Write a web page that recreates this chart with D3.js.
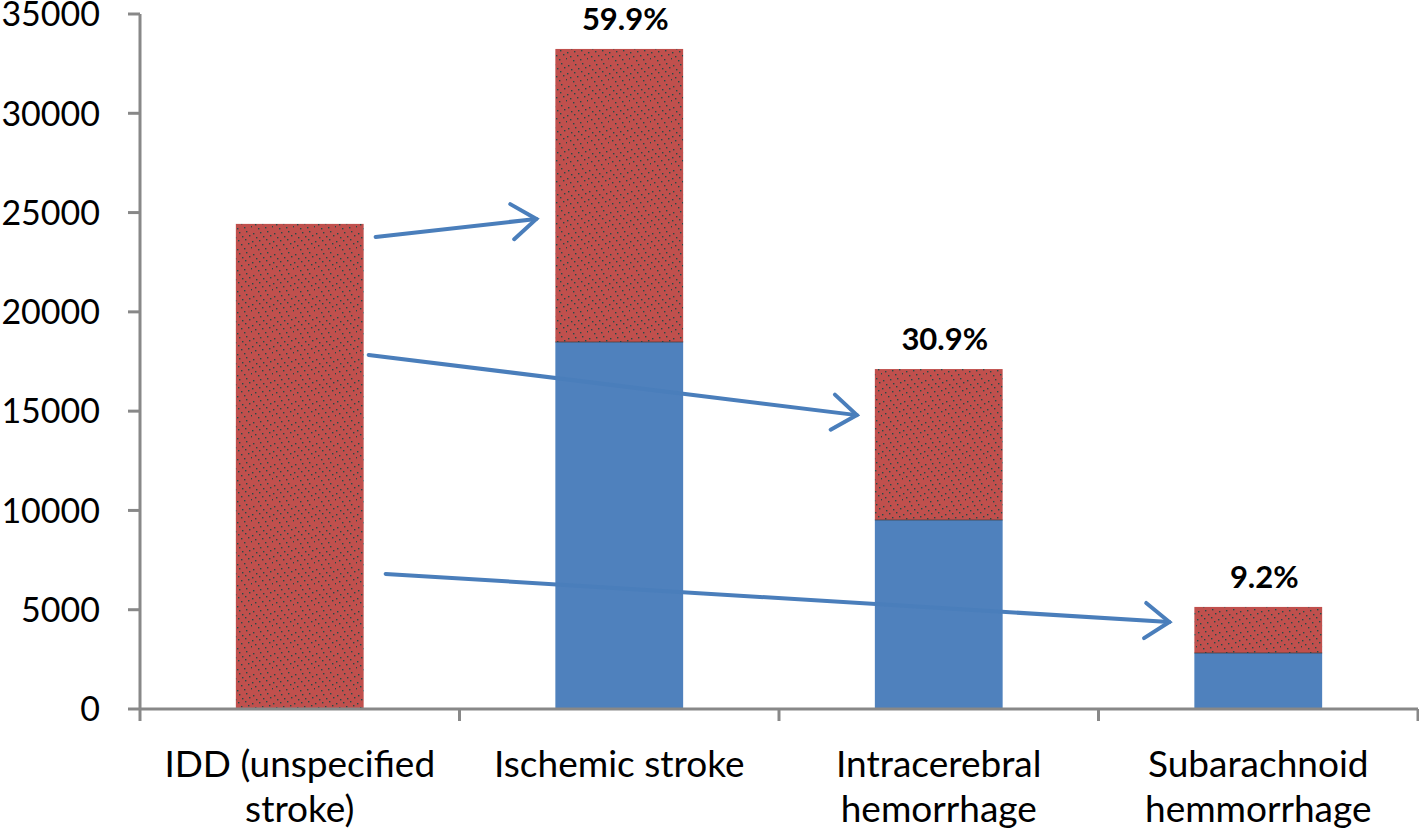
<!DOCTYPE html>
<html>
<head>
<meta charset="utf-8">
<script src="https://cdn.jsdelivr.net/npm/d3@7"></script>
<style>
  html, body { margin: 0; padding: 0; background: #fff; }
  svg { display: block; }
  text { font-family: Lato, "Open Sans", sans-serif; fill: #000; }
</style>
</head>
<body>
<svg id="chart" width="1419" height="833"></svg>
<script>
// ---- data ----
const categories = ["IDD (unspecified stroke)", "Ischemic stroke", "Intracerebral hemorrhage", "Subarachnoid hemmorrhage"];
const categoryLines = [["IDD (unspecified", "stroke)"], ["Ischemic stroke"], ["Intracerebral", "hemorrhage"], ["Subarachnoid", "hemmorrhage"]];
const blueValues = [0, 18480, 9520, 2820];
const redValues = [24430, 14760, 7600, 2320];
const percentLabels = ["", "59.9%", "30.9%", "9.2%"];
const yTicks = [0, 5000, 10000, 15000, 20000, 25000, 30000, 35000];
// arrows: from category (right edge) value -> to category (left edge) value
const arrowFrom = [0, 0, 0];
const arrowTo = [1, 2, 3];
const arrowFromValues = [23770, 17830, 6800];
const arrowToValues = [24680, 14800, 4380];
const arrowStartGap = [12, 5, 22];
const arrowEndGap = [19, 18, 25];

// ---- layout ----
const svg = d3.select("#chart");
const mLeft = 140, mRight = 1418, mTop = 14, mBottom = 709;
const x = d3.scaleBand().domain(categories).range([mLeft, mRight]).paddingInner(0.6).paddingOuter(0.3);
const y = d3.scaleLinear().domain([0, 35000]).range([mBottom, mTop]);
const axisColor = "#888888";

// pattern for red segments
const defs = svg.append("defs");
const pat = defs.append("pattern").attr("id", "dots").attr("patternUnits", "userSpaceOnUse")
  .attr("width", 21).attr("height", 21);
pat.append("rect").attr("width", 21).attr("height", 21).attr("fill", "#C0504D");
const dotPts = [[1,2],[8,1],[15,0],[4,6],[11,5],[18,4],[0,10],[7,9],[14,8],[3,14],[10,13],[17,12],[6,18],[13,17],[20,16]];
dotPts.forEach(p => pat.append("rect").attr("x", p[0]).attr("y", p[1]).attr("width", 1.4).attr("height", 1.4).attr("fill", "#244a47"));

// bars
const g = svg.append("g");
categories.forEach((c, i) => {
  const b = blueValues[i], r = redValues[i];
  if (b > 0) {
    g.append("rect").attr("x", x(c)).attr("width", x.bandwidth())
      .attr("y", y(b)).attr("height", y(0) - y(b)).attr("fill", "#4F81BD");
  }
  g.append("rect").attr("x", x(c)).attr("width", x.bandwidth())
    .attr("y", y(b + r)).attr("height", y(b) - y(b + r)).attr("fill", "url(#dots)");
  if (b > 0) {
    g.append("line").attr("x1", x(c)).attr("x2", x(c) + x.bandwidth())
      .attr("y1", y(b)).attr("y2", y(b)).attr("stroke", "#3a3a3a").attr("stroke-width", 1).attr("opacity", 0.7);
  }
  if (percentLabels[i]) {
    svg.append("text").attr("x", x(c) + x.bandwidth() / 2 + 6).attr("y", y(b + r) - 19)
      .attr("text-anchor", "middle").attr("font-weight", "bold").attr("font-size", 31)
      .text(percentLabels[i]);
  }
});

// y axis
const yAxis = svg.append("g");
yAxis.append("line").attr("x1", mLeft).attr("x2", mLeft).attr("y1", mTop).attr("y2", mBottom)
  .attr("stroke", axisColor).attr("stroke-width", 3);
yTicks.forEach(t => {
  yAxis.append("line").attr("x1", mLeft - 12).attr("x2", mLeft).attr("y1", y(t)).attr("y2", y(t))
    .attr("stroke", axisColor).attr("stroke-width", 3);
  yAxis.append("text").attr("x", mLeft - 40).attr("y", y(t)).attr("dy", "0.36em")
    .attr("text-anchor", "end").attr("font-size", 34).text(t);
});

// x axis
const xAxis = svg.append("g");
xAxis.append("line").attr("x1", mLeft).attr("x2", mRight).attr("y1", mBottom).attr("y2", mBottom)
  .attr("stroke", axisColor).attr("stroke-width", 3);
const bounds = categories.map(c => x(c) - x.step() * x.paddingOuter()).concat([mRight]);
bounds.forEach(bx => {
  xAxis.append("line").attr("x1", bx).attr("x2", bx).attr("y1", mBottom).attr("y2", mBottom + 12)
    .attr("stroke", axisColor).attr("stroke-width", 3);
});
categories.forEach((c, i) => {
  const cx = x(c) + x.bandwidth() / 2;
  categoryLines[i].forEach((ln, j) => {
    xAxis.append("text").attr("x", cx).attr("y", 777 + j * 45).attr("text-anchor", "middle")
      .attr("font-size", 37).text(ln);
  });
});

// arrows
const arrowColor = "#4A7EBB";
arrowFrom.forEach((f, i) => {
  const x1 = x(categories[f]) + x.bandwidth() + arrowStartGap[i];
  const y1 = y(arrowFromValues[i]);
  const x2 = x(categories[arrowTo[i]]) - arrowEndGap[i];
  const y2 = y(arrowToValues[i]);
  const ang = Math.atan2(y2 - y1, x2 - x1);
  const len = 30, spread = Math.PI * 0.2;
  const ax1 = x2 - len * Math.cos(ang - spread), ay1 = y2 - len * Math.sin(ang - spread);
  const ax2 = x2 - len * Math.cos(ang + spread), ay2 = y2 - len * Math.sin(ang + spread);
  svg.append("line").attr("x1", x1).attr("y1", y1).attr("x2", x2).attr("y2", y2)
    .attr("stroke", arrowColor).attr("stroke-width", 4).attr("stroke-linecap", "round");
  svg.append("path").attr("d", `M${ax1},${ay1}L${x2},${y2}L${ax2},${ay2}`)
    .attr("fill", "none").attr("stroke", arrowColor).attr("stroke-width", 4)
    .attr("stroke-linecap", "round").attr("stroke-linejoin", "miter");
});
</script>
</body>
</html>
